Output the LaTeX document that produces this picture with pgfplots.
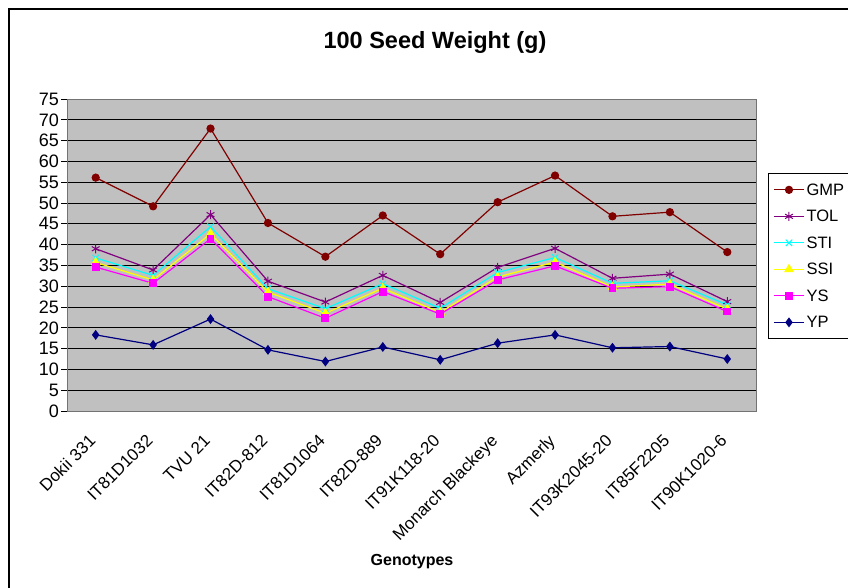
\documentclass[border=0pt]{standalone}
\usepackage{pgfplots}
\pgfplotsset{compat=1.18}
\usepackage{fontspec}
\setmainfont{Liberation Sans}
\definecolor{gmp}{HTML}{800000}
\definecolor{tol}{HTML}{800080}
\definecolor{sti}{HTML}{00FFFF}
\definecolor{ssi}{HTML}{FFFF00}
\definecolor{ys}{HTML}{FF00FF}
\definecolor{yp}{HTML}{000080}
\definecolor{plotbg}{HTML}{C0C0C0}
\begin{document}
\begin{tikzpicture}[x=1pt,y=1pt]
\useasboundingbox (0,0) rectangle (848,587);
\draw[line width=1.3pt] (9,-10) rectangle (900,578);
\node[font=\fontsize{23.5}{27}\selectfont\bfseries] at (435,545) {100 Seed Weight (g)};
\node[font=\fontsize{16}{19}\selectfont\bfseries] at (412,25) {Genotypes};
\begin{axis}[
  at={(67pt,176pt)}, anchor=south west,
  scale only axis, width=689pt, height=312pt,
  xmin=-0.5, xmax=11.5, ymin=0, ymax=75,
  axis background/.style={fill=plotbg},
  axis line style={draw=gray!90!black, line width=1pt},
  ytick={0,5,...,75},
  ymajorgrids, grid style={black, line width=0.9pt},
  xtick={0,...,11},
  xticklabels={Dokii 331,IT81D1032,TVU 21,IT82D-812,IT81D1064,IT82D-889,IT91K118-20,Monarch Blackeye,Azmerly,IT93K2045-20,IT85F2205,IT90K1020-6},
  minor xtick={-0.5,0.5,...,11.5},
  tick align=outside, tick pos=left,
  xtick style={draw=none},
  minor tick length=6pt, major tick length=6pt,
  ytick style={black, line width=0.9pt},
  minor x tick style={black, line width=0.9pt},
  /pgf/number format/assume math mode=true,
  yticklabel style={font=\fontsize{18}{20}\selectfont, inner sep=2pt},
  xticklabel style={font=\fontsize{17}{19}\selectfont, rotate=45, anchor=north east, inner sep=1pt, yshift=-5pt, xshift=-16pt},
  legend style={at={(1.0174,0.763)}, anchor=north west, draw=black, line width=0.8pt,
    font=\fontsize{16.5}{19}\selectfont, row sep=9.5pt, inner xsep=5pt, inner ysep=8pt,
    cells={anchor=west}, nodes={text height=12pt, text depth=1pt}},
  legend image code/.code={\draw[mark repeat=2,mark phase=2] plot coordinates {(0pt,0pt)(15pt,0pt)(30pt,0pt)};},
  every axis plot/.append style={line width=1.2pt},
]
\addplot[gmp, mark=*, mark size=3.5pt] coordinates {(0,56.1)(1,49.2)(2,67.9)(3,45.2)(4,37.1)(5,47.0)(6,37.7)(7,50.2)(8,56.6)(9,46.8)(10,47.8)(11,38.2)};
\addlegendentry{GMP}
\addplot[tol, mark=asterisk, mark size=4.5pt, mark options={line width=1pt}] coordinates {(0,39.0)(1,33.9)(2,47.2)(3,31.2)(4,26.2)(5,32.6)(6,26.1)(7,34.5)(8,39.1)(9,31.9)(10,32.9)(11,26.3)};
\addlegendentry{TOL}
\addplot[sti, mark=x, mark size=4.5pt, mark options={line width=1pt}] coordinates {(0,36.8)(1,32.6)(2,44.3)(3,29.4)(4,24.6)(5,30.6)(6,24.7)(7,33.3)(8,36.9)(9,30.7)(10,31.3)(11,25.5)};
\addlegendentry{STI}
\addplot[ssi, mark=triangle*, mark size=4.5pt] coordinates {(0,35.7)(1,31.5)(2,42.6)(3,28.6)(4,23.5)(5,29.5)(6,23.7)(7,32.2)(8,35.8)(9,29.8)(10,30.5)(11,24.5)};
\addlegendentry{SSI}
\addplot[ys, mark=square*, mark size=3.3pt] coordinates {(0,34.6)(1,30.7)(2,41.4)(3,27.5)(4,22.3)(5,28.7)(6,23.3)(7,31.5)(8,34.9)(9,29.5)(10,29.9)(11,23.9)};
\addlegendentry{YS}
\addplot[yp, mark=diamond*, mark size=4pt] coordinates {(0,18.3)(1,15.9)(2,22.1)(3,14.7)(4,11.9)(5,15.4)(6,12.3)(7,16.3)(8,18.3)(9,15.2)(10,15.5)(11,12.5)};
\addlegendentry{YP}
\end{axis}
\end{tikzpicture}
\end{document}
